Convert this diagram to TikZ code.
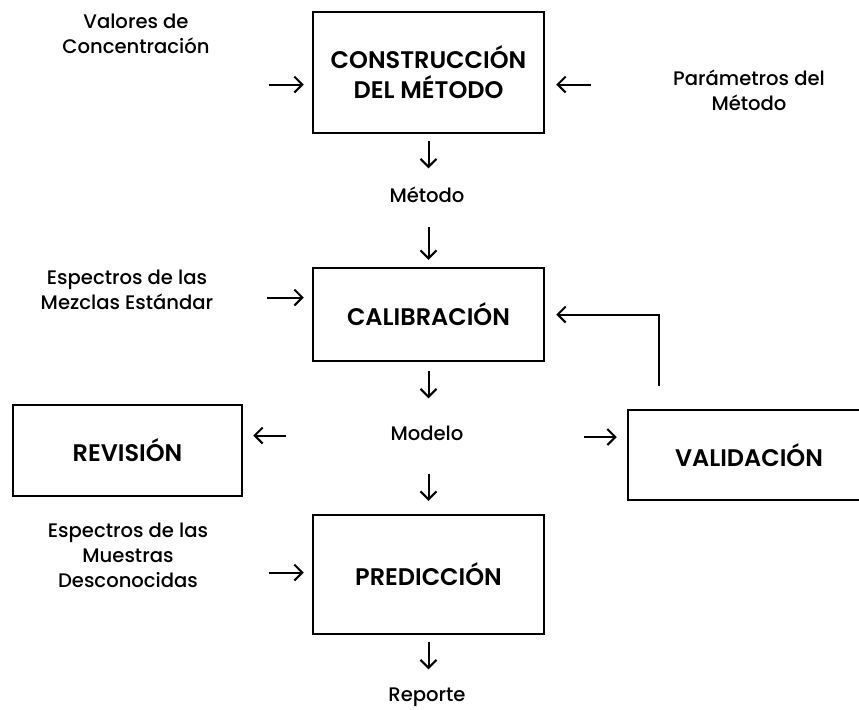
\documentclass[tikz,border=0pt]{standalone}
\usepackage{fontspec}
\setmainfont{Poppins}[UprightFont={* Medium}, BoldFont={* SemiBold}]
\usepackage{tikz}
\usetikzlibrary{positioning,calc,arrows.meta}
\tikzset{
    etapa/.style={rectangle, draw=black, line width=1.25pt, align=center, font=\bfseries\fontsize{12}{15}\selectfont},
    texto/.style={align=center, inner sep=0pt, font=\fontsize{9.8}{12.5}\selectfont},
    flecha/.style={line width=1pt, -{Straight Barb[length=4pt,width=8pt]}}
}

\begin{document}
\begin{tikzpicture}[x=0.5pt, y=-0.5pt]
        \useasboundingbox (0,0) rectangle (859,709);

        % --- ETAPAS ---
        \node[etapa, minimum width=115.5pt, minimum height=60.5pt] (constr) at (428.5,72.5) {CONSTRUCCIÓN\\DEL MÉTODO};
        \node[etapa, minimum width=115.5pt, minimum height=46.5pt] (calib) at (428.5,314.5) {CALIBRACIÓN};
        \node[etapa, minimum width=114.5pt, minimum height=45.5pt] (revis) at (127.5,450.5) {REVISIÓN};
        \node[etapa, minimum width=121pt, minimum height=45pt] (valid) at (749,455) {VALIDACIÓN};
        \node[etapa, minimum width=115.5pt, minimum height=59.5pt] (predic) at (428.5,574.5) {PREDICCIÓN};

        % --- TEXTOS ---
        \node[texto] (valores) at (136,34) {Valores de\\Concentración};
        \node[texto] (param) at (749,90) {Parámetros del\\Método};
        \node[texto] (mezclas) at (127,290) {Espectros de las\\Mezclas Estándar};
        \node[texto] (muestras) at (128,555) {Espectros de las\\Muestras\\Desconocidas};
        \node[texto] (metodo) at (427,195) {Método};
        \node[texto] (modelo) at (427,433) {Modelo};
        \node[texto] (reporte) at (427,697) {Reporte};

        % --- FLECHAS ---
        \draw[flecha] ($(constr.west)+(-43,12)$) -- +(35,0);
        \draw[flecha] ($(constr.east)+(46,12)$) -- +(-35,0);
        \draw[flecha] ($(constr.south)+(0,7)$) -- +(0,27);
        \draw[flecha] ($(calib.north)+(0,-40)$) -- +(0,33);
        \draw[flecha] ($(calib.west)+(-45,-17)$) -- +(37,0);
        \draw[flecha] ($(calib.south)+(0,9)$) -- +(0,27);
        \draw[flecha] ($(revis.east)+(43,-15)$) -- +(-33,0);
        \draw[flecha] ($(valid.west)+(-43,-18)$) -- +(33,0);
        \draw[flecha] ($(valid.north west)+(32,-23)$) |- ($(calib.east)+(11,0)$);
        \draw[flecha] ($(predic.north)+(0,-40)$) -- +(0,27);
        \draw[flecha] ($(predic.west)+(-43,-2)$) -- +(35,0);
        \draw[flecha] ($(predic.south)+(0,7)$) -- +(0,27);

    \end{tikzpicture}
\end{document}
